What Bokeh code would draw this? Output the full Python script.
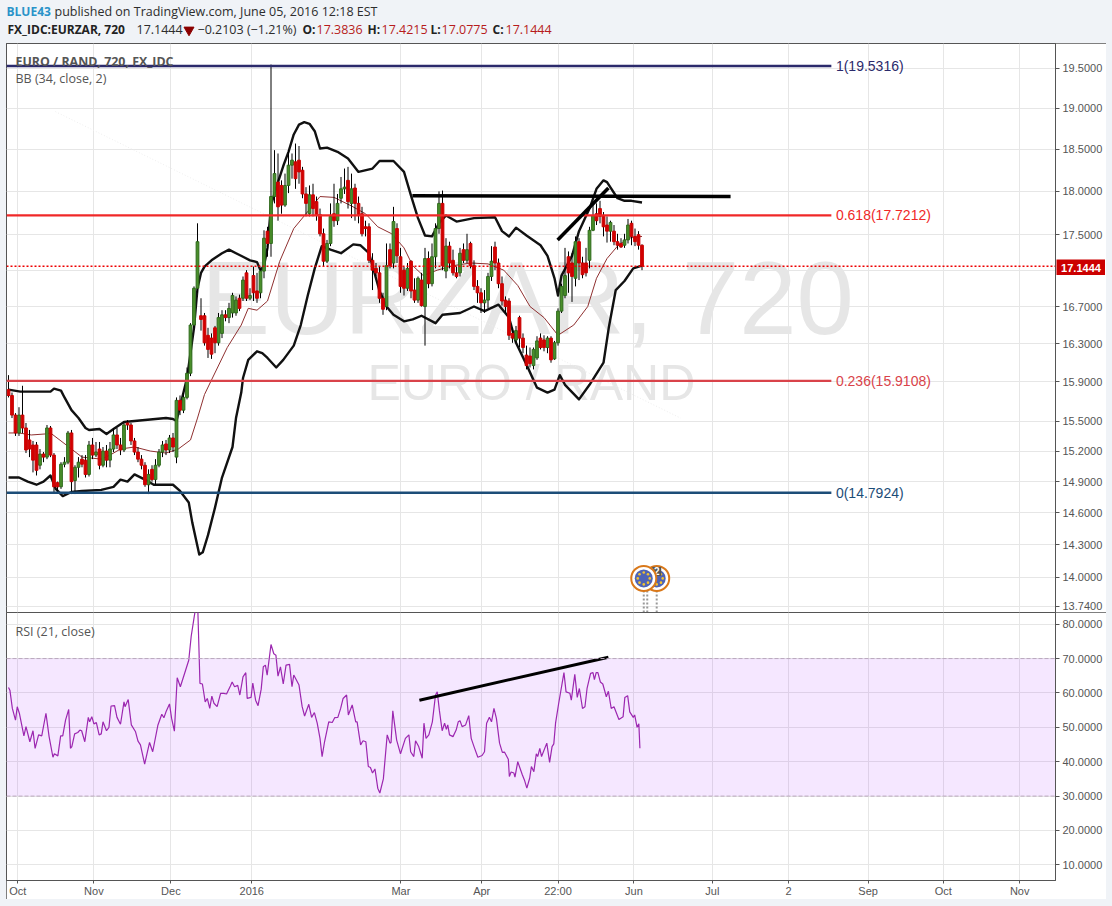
from math import cos, sin, pi, exp
from bokeh.plotting import figure
from bokeh.layouts import column
from bokeh.models import Range1d, FixedTicker, PrintfTickFormatter, Span, BoxAnnotation, Label
from bokeh.core.properties import value
from bokeh.embed import file_html
from bokeh.resources import INLINE

# ---------- candles (price, one entry per bar) ----------
opens = [15.82,15.76,15.56,15.38,15.56,15.43,15.31,15.26,15.26,15.06,
15.17,15.14,15.43,15.16,14.89,14.85,15.07,15.09,15.38,14.91,
15.04,15.12,15.11,14.97,15.26,15.16,15.22,15.06,15.20,15.11,
15.22,15.36,15.26,15.21,15.48,15.46,15.30,15.19,15.12,15.06,
14.87,15.02,14.92,15.06,15.19,15.27,15.21,15.33,15.14,15.71,
15.61,15.74,15.99,16.50,16.90,16.60,16.60,16.39,16.36,16.47,
16.31,16.41,16.61,16.58,16.63,16.63,16.79,16.79,17.07,16.79,
17.04,16.87,16.85,17.09,17.54,17.40,17.94,18.11,18.07,17.84,
18.07,18.31,18.35,18.37,18.25,17.97,17.74,17.96,17.88,17.73,
17.51,17.20,17.40,17.74,17.66,17.92,18.03,18.13,17.86,18.04,
17.86,17.74,17.59,17.59,17.21,17.12,17.07,16.79,16.70,17.33,
17.18,17.57,17.25,17.10,16.90,17.20,16.88,16.77,16.99,16.70,
17.23,16.95,17.25,17.57,17.86,17.09,17.37,17.21,17.07,17.07,
17.33,17.21,17.40,17.15,16.92,16.85,16.74,16.77,17.03,17.36,
17.18,16.95,16.77,16.76,16.41,16.34,16.58,16.36,16.18,16.17,
16.07,16.15,16.36,16.34,16.26,16.36,16.14,16.31,16.65,16.82,
17.25,17.18,17.01,17.42,17.18,17.18,17.21,17.55,17.74,17.80,
17.71,17.61,17.54,17.54,17.42,17.40,17.38,17.44,17.63,17.48,
17.50,17.38]
highs = [15.97,15.79,15.58,15.64,15.86,15.48,15.41,15.30,15.29,15.22,
15.19,15.46,15.45,15.18,14.90,15.09,15.14,15.40,15.41,15.06,
15.14,15.16,15.16,15.30,15.33,15.29,15.29,15.24,15.26,15.29,
15.43,15.43,15.33,15.48,15.51,15.48,15.33,15.24,15.16,15.09,
15.02,15.06,15.12,15.22,15.30,15.31,15.36,15.38,15.74,15.76,
15.79,16.05,16.52,16.92,17.63,16.79,16.63,16.47,16.41,16.49,
16.63,16.66,16.66,16.74,16.85,16.81,16.83,17.03,17.10,16.90,
17.14,17.07,17.12,17.55,17.59,19.55,18.49,18.45,18.13,18.21,
18.49,18.45,18.57,18.54,18.29,18.05,18.07,18.09,17.94,17.80,
17.57,17.44,17.86,18.09,17.97,18.17,18.27,18.29,18.21,18.09,
17.94,17.82,17.66,17.63,17.29,17.18,17.14,16.85,17.40,17.40,
17.82,17.63,17.35,17.14,17.18,17.21,17.01,17.03,17.07,17.35,
17.31,17.40,17.63,18.00,18.01,17.46,17.42,17.33,17.14,17.35,
17.40,17.51,17.42,17.21,16.99,16.90,16.88,17.07,17.37,17.42,
17.23,17.03,16.81,16.79,16.47,16.49,16.60,16.41,16.28,16.26,
16.26,16.38,16.41,16.39,16.38,16.38,16.33,16.68,16.95,17.35,
17.31,17.29,17.48,17.46,17.25,17.35,17.59,17.86,17.86,17.89,
17.76,17.71,17.66,17.61,17.51,17.46,17.51,17.68,17.66,17.57,
17.54,17.39]
lows = [15.74,15.53,15.35,15.35,15.38,15.18,15.14,14.99,14.96,15.02,
15.09,15.12,15.14,14.80,14.80,14.83,15.04,15.07,14.78,14.78,
14.94,15.04,14.94,14.95,15.12,15.14,15.02,15.04,15.04,15.04,
15.19,15.22,15.16,15.19,15.41,15.26,15.16,15.09,15.02,14.85,
14.78,14.90,14.87,15.04,15.14,15.16,15.18,15.19,15.08,15.56,
15.58,15.72,15.96,16.47,16.85,16.44,16.28,16.15,16.14,16.20,
16.28,16.36,16.54,16.52,16.58,16.60,16.65,16.76,16.76,16.77,
16.76,16.74,16.79,17.01,17.25,17.25,17.86,17.66,17.74,17.82,
17.98,18.15,18.03,18.09,17.92,17.71,17.71,17.71,17.66,17.48,
17.14,17.18,17.37,17.59,17.61,17.86,17.97,17.80,17.69,17.66,
17.63,17.48,17.48,17.18,16.88,17.03,16.74,16.61,16.66,17.12,
17.12,17.18,16.85,16.82,16.87,16.79,16.74,16.74,16.70,16.28,
16.90,16.92,17.12,17.51,17.10,17.01,17.12,17.04,17.01,17.03,
17.18,17.18,17.12,16.88,16.74,16.63,16.63,16.68,16.98,17.10,
16.90,16.71,16.63,16.34,16.31,16.31,16.26,16.20,16.03,16.05,
16.03,16.13,16.24,16.22,16.20,16.10,16.13,16.28,16.63,16.79,
16.85,16.75,16.92,16.99,17.01,17.03,17.12,17.54,17.61,17.63,
17.48,17.41,17.42,17.38,17.33,17.35,17.35,17.40,17.38,17.37,
17.33,17.10]
closes = [15.76,15.56,15.38,15.56,15.43,15.21,15.22,15.11,15.01,15.17,
15.14,15.43,15.16,14.85,14.85,15.07,15.09,15.38,14.90,15.04,
15.09,15.07,14.97,15.26,15.16,15.19,15.06,15.20,15.11,15.22,
15.36,15.26,15.21,15.46,15.46,15.30,15.19,15.12,15.06,14.87,
14.97,14.92,15.06,15.19,15.26,15.21,15.33,15.24,15.71,15.61,
15.74,15.99,16.50,16.90,17.42,16.56,16.31,16.24,16.19,16.31,
16.58,16.61,16.58,16.68,16.82,16.77,16.68,16.99,16.79,16.82,
16.85,16.79,17.09,17.46,17.40,17.94,18.21,17.82,17.84,18.07,
18.31,18.37,18.15,18.23,17.97,17.86,17.96,17.80,17.72,17.51,
17.20,17.40,17.71,17.66,17.86,18.03,18.05,17.88,18.03,17.86,
17.72,17.51,17.57,17.21,17.10,17.07,16.79,16.67,17.15,17.15,
17.65,17.26,16.92,16.90,17.12,16.87,16.77,17.01,16.71,17.23,
16.95,17.25,17.57,17.86,17.15,17.37,17.18,17.07,17.03,17.29,
17.21,17.33,17.15,16.92,16.85,16.74,16.77,17.03,17.20,17.18,
16.95,16.76,16.70,16.39,16.36,16.44,16.36,16.26,16.07,16.09,
16.24,16.33,16.26,16.26,16.36,16.13,16.31,16.65,16.92,17.04,
17.07,17.03,17.42,17.18,17.05,17.07,17.55,17.72,17.66,17.71,
17.59,17.54,17.64,17.42,17.38,17.36,17.44,17.61,17.48,17.42,
17.38,17.1444]

# ---------- Bollinger bands (bar position, price) ----------
upper_x = [0,3.4,9,12,13,15,16,18,20,22,23,26,28,30,33,39,45,47,48,51,53,54,55,56,58,61,63,65,67,69,71,72,73,74,75,77,78.5,80,81.5,83,84.5,86,87.5,89,91,94,97,100,104,106,110,113,115,117,119,121,123,125,128,133,139,141,143,145,148,152,154,156,157,158,161,163,166,168,170,171,174,176,178,181]
upper_v = [15.82,15.80,15.80,15.80,15.83,15.81,15.74,15.61,15.53,15.43,15.41,15.42,15.37,15.42,15.49,15.51,15.53,15.52,15.50,15.94,16.47,16.90,17.07,17.14,17.21,17.29,17.33,17.29,17.25,17.21,17.19,17.10,17.15,17.35,17.84,18.11,18.30,18.47,18.68,18.80,18.83,18.81,18.72,18.51,18.52,18.47,18.39,18.23,18.27,18.36,18.36,18.23,17.95,17.69,17.49,17.48,17.63,17.72,17.65,17.69,17.70,17.54,17.48,17.58,17.49,17.38,17.26,17.01,16.82,17.04,17.26,17.54,17.80,18.03,18.13,18.11,17.92,17.89,17.89,17.87]
lower_x = [0,3,5.5,8,10,12,13.5,15.5,18,21,26.5,30,32,34,36,39,41.5,47,49,51.5,52.5,54.5,55.5,57,59,61,64,65,66.5,67,68.5,71,72.5,74,76.5,78.5,81.5,83.5,85.5,87.5,89.5,92,95,98.5,100.5,103,106,108,110,113,115.5,118,122,124,129,133,136,140,143,145,148,151,154,156,157.5,159,163,166,170,171.5,173.5,176,178.5,181]
lower_v = [14.94,14.94,14.90,14.87,14.90,14.96,14.83,14.76,14.80,14.81,14.82,14.85,14.92,14.90,14.97,14.92,14.87,14.87,14.81,14.70,14.51,14.21,14.23,14.39,14.65,14.94,15.24,15.53,15.79,15.94,16.13,16.22,16.20,16.15,16.05,16.13,16.28,16.50,16.82,17.12,17.37,17.33,17.29,17.39,17.38,17.29,16.87,16.70,16.61,16.54,16.56,16.60,16.52,16.61,16.63,16.70,16.65,16.72,16.58,16.31,16.08,15.84,15.79,15.82,15.97,15.87,15.72,15.87,16.10,16.47,16.88,16.98,17.12,17.15]
basis_x = [0,3,6.5,10.5,12,15,18,21,26.5,29,32,36,40.5,45,48.5,52,54,56,58,62.5,66.5,68.5,71,74,77.5,81.5,85,89,93,98,102,105.5,109.5,113,115.5,118.5,122.5,127,132,137,141.5,145.5,149,153,157,161.5,165.5,168,171,174,177,181]
basis_v = [15.38,15.38,15.36,15.37,15.38,15.30,15.22,15.14,15.12,15.16,15.22,15.24,15.20,15.18,15.22,15.31,15.53,15.77,15.92,16.26,16.50,16.68,16.66,16.76,17.20,17.57,17.74,17.94,17.93,17.83,17.74,17.59,17.51,17.35,17.15,17.04,17.10,17.15,17.18,17.17,17.10,16.93,16.70,16.58,16.39,16.50,16.70,17.01,17.23,17.37,17.46,17.48]

# ---------- RSI (bar position, value) ----------
rsi_x = [0,.4,1.1,2,2.5,3.1,4.4,5,6.1,7,7.6,8.6,9.5,10.7,11.6,12.7,13.1,14.1,14.9,15.5,16.3,17.2,17.7,18.1,18.9,19.8,20.4,20.9,21.8,22.8,23.2,23.8,24.4,25.1,25.9,26.5,27,28,28.7,29.3,30.3,31,32,33,33.3,34.2,35.1,36.3,37,37.7,38.9,40.3,41.2,42.7,43.8,44.4,45,46,46.6,47.4,48.2,49.1,50.6,51.5,52.2,52.9,53.5,54.1,54.7,55.4,56.2,56.8,57.5,58.1,58.7,59.6,60.6,61.5,62.3,63.4,63.9,64.6,65.5,66.1,67,67.8,68.2,69.3,69.8,70.6,71.3,72.2,72.8,73.4,73.9,75,75.8,76.4,77,77.7,78.5,79.3,80.3,81,81.5,83,83.9,84.6,85.8,86.6,87.4,88.2,89,89.6,90.3,91.5,92.5,93.2,94.1,94.9,95.6,96.6,97.1,98.2,99.2,99.6,100.6,101.3,102.1,102.8,103.4,104,104.7,105.5,106.1,107.1,108.2,109,109.3,109.8,110.9,112,113.4,114.4,114.9,115.8,116.3,117.2,118.2,118.7,119.3,120.1,121.1,122,122.5,123.1,123.9,124.6,125.1,125.5,126,127,127.9,128.5,129,129.6,130.6,131.5,132.2,133,134.1,135.3,136,136.6,137.4,138,138.7,139.4,140.3,141.1,141.7,142.8,143.1,143.6,144.4,144.7,145.5,146.8,147.4,148.1,148.9,149.4,150.1,150.8,151.2,151.8,152.3,153.8,154.6,155.3,155.8,156.3,157.2,158.7,159.3,160.4,160.8,161.8,162.5,163.1,164,164.7,165.3,166.3,167,167.4,167.9,168.4,169.1,169.8,170.8,171.4,172.2,173,174.4,175.6,176.1,176.9,177.5,178.5,178.9,179.6,180.1,180.4]
rsi_v = [61.6,60.8,55.5,52.1,56,54.1,47.5,50.2,45.8,49,43.9,47.8,47.5,54.1,47.3,41.3,42.3,41.7,47.5,47.5,52.1,55.2,43.9,44.4,48.1,48.5,49.2,49,45.8,52.9,51.6,53.1,51,51.4,47.8,48.1,51.6,49,50,56.2,56.3,52.9,50.9,57.4,56,58.1,50.7,48.7,46,44.9,39.3,45.6,42.9,50.7,53.8,52.8,54.5,56.8,52.6,48.9,64.4,61.8,66.6,69.5,76.5,81.1,85,84,62.8,62.6,57.4,58.4,55.5,59.1,57,56,59.9,59.9,59.7,62,63.2,61.8,62.2,59.4,64.7,65.9,58.4,58.7,62.9,57.9,56.3,61.1,67.6,68.1,65.2,74.1,71.4,71,64.9,67.6,62.6,68.1,68.3,61.8,65.2,62.3,56,53.3,56.7,52.9,54.3,51.2,46.8,41.5,45.8,51.6,51.4,52.8,52.9,55.5,58.4,59.4,53.6,56.5,51.6,51.6,44.9,46.1,45.8,38.6,38.3,36.7,37.9,32.3,30.9,35,47.8,45.4,45.6,54.8,46.3,42.3,46.8,47.8,42.9,41.5,46.1,44.4,41,51.2,46.8,47.8,51.6,59.4,60.3,55,49,51.2,49.4,50.7,47.8,47.3,49.2,51.6,51.9,50.2,50.7,53.4,46.8,44.4,41.3,41.8,42.9,51.2,52.9,51.6,55.5,52.6,45.4,42.7,42.8,40.7,35.7,37,36.7,35.5,40,36.2,34.7,32.3,35.2,38.6,37.1,42.3,41.5,43.9,41.5,45.4,39.8,44.4,45.2,51.2,57,65.9,60.3,59.9,57.9,65.4,58.7,61.3,55.5,56,61.3,65.7,65.9,63.9,65.9,65.9,63.2,62.6,58.9,60.5,55.5,56,52.3,53.1,58.7,59.2,54.5,52.9,53.6,50,51,43.9]

# ---------- levels, drawings, ticks ----------
fib_prices = [19.5316, 17.7212, 15.9108, 14.7924]
fib_labels = ["1(19.5316)", "0.618(17.7212)", "0.236(15.9108)", "0(14.7924)"]
fib_colors = ["#2b2a6b", "#f02828", "#d9434a", "#1c4d78"]
last_close = 17.1444
last_close_label = "17.1444"
hline_x, hline_v = [115.4, 206.3], [17.95, 17.94]
diag_x, diag_v = [156.9, 171.4], [17.44, 18.04]
rsi_line_x, rsi_line_v = [117.4, 171.4], [57.9, 70.4]
faint_x, faint_v = [13.4, 192], [18.96, 15.53]
event_x = [185.2, 181.5, 182.5]
event_price = 13.99
x_ticks = [2.66, 24.4, 46.4, 69.5, 112.1, 135.2, 157.0, 178.7, 201.1, 222.9, 245.6, 267.1, 288.9]
x_labels = ["Oct", "Nov", "Dec", "2016", "Mar", "Apr", "22:00", "Jun", "Jul", "2", "Sep", "Oct", "Nov"]
price_ticks = [19.5, 19.0, 18.5, 18.0, 17.5, 16.7, 16.3, 15.9, 15.5, 15.2, 14.9, 14.6, 14.3, 14.0, 13.74]
price_grid = [19.5, 19.0, 18.5, 18.0, 17.5, 17.1, 16.7, 16.3, 15.9, 15.5, 15.2, 14.9, 14.6, 14.3, 14.0, 13.74]
rsi_ticks = [80, 70, 60, 50, 40, 30, 20, 10]

PAGE = "#f0f3f7"
AXIS = "#555555"
GRID = "#e6e6e6"
X_RANGE = (-0.571, 299.14)
SANS = "Open Sans"
AX_FONT = "Liberation Sans"
OUTLINE = {"outline": "1px solid #555555", "outline-offset": "-1px"}

def style_axes(p):
    p.min_border_left = 0
    p.min_border_top = 0
    p.border_fill_color = "#ffffff"
    p.background_fill_color = "#ffffff"
    p.outline_line_color = AXIS
    p.xgrid.ticker = FixedTicker(ticks=x_ticks)
    p.xgrid.grid_line_color = GRID
    p.ygrid.grid_line_color = GRID
    ax = p.yaxis[0]
    ax.axis_line_color = AXIS
    ax.major_tick_line_color = AXIS
    ax.major_tick_out = 4
    ax.major_tick_in = 0
    ax.minor_tick_line_color = None
    ax.major_label_standoff = 3
    ax.major_label_text_color = AXIS
    ax.major_label_text_font = AX_FONT
    ax.major_label_text_font_size = "11px"
    ax.formatter = PrintfTickFormatter(format="%.4f")

# ---------- header strip ----------
head = figure(frame_width=1112, frame_height=43, x_range=Range1d(0, 1112), y_range=Range1d(43, 0),
              x_axis_location=None, y_axis_location=None, toolbar_location=None,
              output_backend="svg", min_border_left=0, min_border_right=0, min_border_top=0, min_border_bottom=0)
head.grid.visible = False
head.outline_line_color = None
head.background_fill_color = PAGE
head.border_fill_color = PAGE

def htext(x, y, s, color="#2d2d2d", style="normal", size="12.5px"):
    head.text(x=[x], y=[y], text=[s], text_color=color, text_font=value(SANS),
              text_font_style=style, text_font_size=size, text_baseline="middle", text_align="left")

htext(6, 11, "BLUE43", "#2a93c9", "bold", "12px")
htext(54, 11, "published on TradingView.com, June 05, 2016 12:18 EST")
htext(7, 29, "FX_IDC:EURZAR, 720", "#222222", "bold", "12px")
htext(136, 29, "17.1444")
head.scatter(x=[188.5], y=[29.5], marker="inverted_triangle", size=10, fill_color="#8b0000", line_color="#8b0000")
htext(197, 29, "\u22120.2103 (\u22121.21%)")
for xk, key, xv, val in [(302, "O:", 316, "17.3836"), (367, "H:", 381, "17.4215"),
                         (430, "L:", 441, "17.0775"), (492, "C:", 505, "17.1444")]:
    htext(xk, 29, key, "#222222", "bold", "12px")
    htext(xv, 29, val, "#b71c1c")

# ---------- price pane ----------
pr = figure(width=1100, height=570, x_range=Range1d(*X_RANGE), y_range=Range1d(13.674, 19.82),
            y_axis_type="log", x_axis_location=None, y_axis_location="right",
            toolbar_location=None, output_backend="svg", margin=(0, 0, 0, 6), styles=OUTLINE)
style_axes(pr)
pr.min_border_right = 51
pr.min_border_bottom = 0
pr.yaxis[0].ticker = FixedTicker(ticks=price_ticks)
pr.ygrid.ticker = FixedTicker(ticks=price_grid)

pr.text(x=[148.3], y=[16.79], text=["EURZAR, 720"], text_color="#e6e6e6", text_font=value(AX_FONT),
        text_font_size="103px", text_align="center", text_baseline="middle")
pr.text(x=[149.4], y=[15.89], text=["EURO / RAND"], text_color="#e6e6e6", text_font=value(AX_FONT),
        text_font_size="50px", text_align="center", text_baseline="middle")
pr.line(faint_x, faint_v, line_color="#eeeeee", line_width=1, line_dash="1 2")

pr.line(basis_x, basis_v, line_color="#8f3030", line_width=1)
pr.line(upper_x, upper_v, line_color="#111111", line_width=2.4, line_join="round")
pr.line(lower_x, lower_v, line_color="#111111", line_width=2.4, line_join="round")

idx = list(range(len(closes)))
pr.segment(x0=idx, x1=idx, y0=lows, y1=highs, line_color="#000000", line_width=1)
up = [i for i in idx if closes[i] >= opens[i]]
dn = [i for i in idx if closes[i] < opens[i]]
pr.vbar(x=up, width=0.78, top=[closes[i] for i in up], bottom=[opens[i] for i in up],
        fill_color="#4a8f2a", line_color="#2e6a1c", line_width=1)
pr.vbar(x=dn, width=0.78, top=[opens[i] for i in dn], bottom=[closes[i] for i in dn],
        fill_color="#d40000", line_color="#c80000", line_width=1)

pr.add_layout(Span(location=last_close, dimension="width", line_color="#ee0000", line_width=1.4, line_dash="2 2"))

for v, lab, col in zip(fib_prices, fib_labels, fib_colors):
    pr.segment(x0=[X_RANGE[0]], x1=[235.1], y0=[v], y1=[v], line_color=col, line_width=2.4)
    pr.text(x=[236.4], y=[v], text=[lab], text_color=col, text_font=value(AX_FONT),
            text_font_size="14px", text_baseline="middle", text_align="left")

pr.line(hline_x, hline_v, line_color="#000000", line_width=3.5)
pr.line(diag_x, diag_v, line_color="#000000", line_width=3.5)

# event bubbles: dashed stems, then the discs with their ring of stars
ev_bottom = 13.674
pr.segment(x0=event_x, x1=event_x, y0=[event_price] * 3, y1=[ev_bottom] * 3,
           line_color="#999999", line_width=2, line_dash="2 2")
for ex in event_x[:2]:
    pr.scatter(x=[ex], y=[event_price], marker="circle", size=25, fill_color="#ffffff",
               line_color="#d9781a", line_width=2)
    pr.scatter(x=[ex], y=[event_price], marker="circle", size=18, fill_color="#4f63b5", line_color=None)
    sx = [ex + 6 * cos(k * pi / 4) / 3.5 for k in range(8)]
    sy = [event_price * exp(6 * sin(k * pi / 4) / 1537) for k in range(8)]
    pr.scatter(x=sx, y=sy, marker="circle", size=2.6, fill_color="#f2c230", line_color=None)
    if ex == event_x[0]:
        pr.scatter(x=[ex], y=[event_price * exp(7 / 1537)], marker="square", size=9, fill_color="#555555", line_color=None)
        pr.text(x=[ex], y=[event_price * exp(7 / 1537)], text=["2"], text_color="#ffffff",
                text_font=value(AX_FONT), text_font_style="bold", text_font_size="10px",
                text_align="center", text_baseline="middle")

pr.add_layout(Label(x=2.0, y=19.59, text="EURO / RAND, 720, FX_IDC", text_color=AXIS, text_font=SANS,
                    text_font_style="bold", text_font_size="12.4px", text_baseline="middle"))
pr.add_layout(Label(x=2.0, y=19.37, text="BB (34, close, 2)", text_color=AXIS, text_font=SANS,
                    text_font_size="12.5px", text_baseline="middle"))

# ---------- RSI pane ----------
rs = figure(width=1100, height=287, x_range=pr.x_range, y_range=Range1d(5.45, 83.4),
            y_axis_location="right", toolbar_location=None, output_backend="svg", margin=(-1, 0, 7, 6),
            styles=OUTLINE)
style_axes(rs)
rs.min_border_right = 51
rs.min_border_bottom = 18
rs.yaxis[0].ticker = FixedTicker(ticks=rsi_ticks)
rs.ygrid.ticker = FixedTicker(ticks=rsi_ticks)
xa = rs.xaxis[0]
xa.ticker = FixedTicker(ticks=x_ticks)
xa.major_label_overrides = dict(zip(x_ticks, x_labels))
xa.axis_line_color = AXIS
xa.major_tick_line_color = AXIS
xa.major_tick_out = 3
xa.major_tick_in = 0
xa.minor_tick_line_color = None
xa.major_label_standoff = 1
xa.major_label_text_color = AXIS
xa.major_label_text_font = AX_FONT
xa.major_label_text_font_size = "11px"

rs.add_layout(BoxAnnotation(bottom=30, top=70, fill_color="#9915ff", fill_alpha=0.1, line_color=None, level="underlay"))
for lv in (30, 70):
    rs.add_layout(Span(location=lv, dimension="width", line_color="#b9a7bd", line_width=1, line_dash="4 2"))
rs.line(rsi_x, rsi_v, line_color="#9c27b0", line_width=1.2)
rs.line(rsi_line_x, rsi_line_v, line_color="#000000", line_width=3)
rs.add_layout(Label(x=2.0, y=78.0, text="RSI (21, close)", text_color=AXIS, text_font=SANS,
                    text_font_size="12.5px", text_baseline="middle"))

# ---------- last-price tag on the axis ----------
tag = figure(frame_width=49, frame_height=16, x_range=Range1d(0, 1), y_range=Range1d(0, 1),
             x_axis_location=None, y_axis_location=None, toolbar_location=None, output_backend="svg",
             min_border_left=0, min_border_right=0, min_border_top=0, min_border_bottom=0,
             styles={"position": "absolute", "left": "1056px", "top": "259px", "z-index": "10"})
tag.grid.visible = False
tag.outline_line_color = None
tag.background_fill_color = "#cc0000"
tag.border_fill_color = "#cc0000"
tag.text(x=[0.5], y=[0.5], text=[last_close_label], text_color="#ffffff", text_font=value(AX_FONT),
         text_font_style="bold", text_font_size="11px", text_align="center", text_baseline="middle")

root = column(head, pr, rs, tag, spacing=0,
              styles={"position": "absolute", "left": "0px", "top": "0px", "background": PAGE})
open("out.html", "w").write(file_html(root, INLINE))
